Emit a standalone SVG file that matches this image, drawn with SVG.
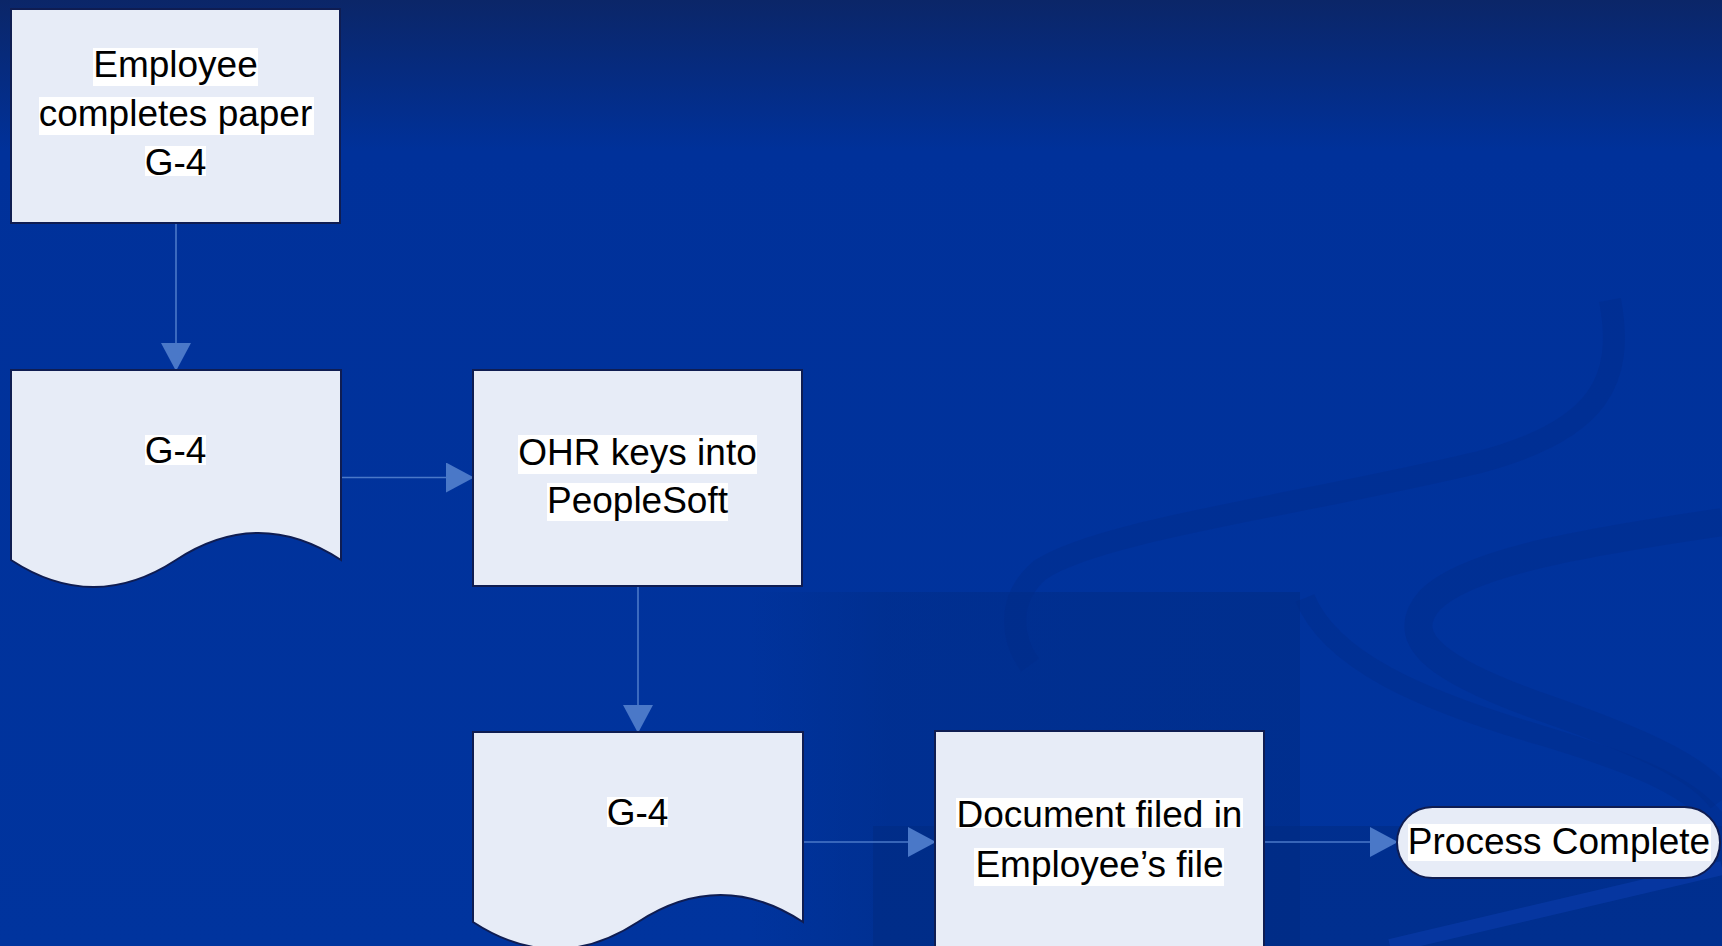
<svg xmlns="http://www.w3.org/2000/svg" width="1722" height="946" viewBox="0 0 1722 946">
<defs>
<linearGradient id="bg" x1="0" y1="0" x2="0" y2="1">
<stop offset="0" stop-color="#0b2668"/>
<stop offset="0.16" stop-color="#00319a"/>
<stop offset="1" stop-color="#00349e"/>
</linearGradient>
<linearGradient id="fadeR" x1="0" y1="0" x2="1" y2="0">
<stop offset="0" stop-color="#002a80" stop-opacity="0"/>
<stop offset="0.25" stop-color="#002a80" stop-opacity="0.4"/>
<stop offset="1" stop-color="#002a80" stop-opacity="0.5"/>
</linearGradient>
<marker id="ah" markerUnits="userSpaceOnUse" markerWidth="28" markerHeight="30" refX="27" refY="15" orient="auto">
<path d="M0,0 L28,15 L0,30 Z" fill="#4a78c8"/>
</marker>
<style>
.node{fill:#e7ecf7;stroke:#0f1d52;stroke-width:2}
.hl{fill:#ffffff}
.t{font-family:"Liberation Sans",Arial,sans-serif;font-size:37px;fill:#000000;text-anchor:middle}
.edge{fill:none;stroke:#4a78c8;stroke-width:1.6;marker-end:url(#ah)}
.band{fill:none;stroke:#002b86;stroke-opacity:0.35}
</style>
</defs>
<g id="background">
<rect x="0" y="0" width="1722" height="946" fill="url(#bg)"/>
<rect x="750" y="592" width="550" height="354" fill="url(#fadeR)"/>
<rect x="873" y="826" width="849" height="120" fill="#002a80" fill-opacity="0.5"/>
<path class="band" stroke-width="22" d="M1610,300 C1625,380 1600,430 1480,462 C1300,505 1100,530 1040,570 C1005,600 1012,640 1030,665"/>
<path class="band" stroke-width="20" d="M1305,598 C1330,660 1420,700 1540,735 C1640,765 1700,790 1722,830"/>
<path class="band" stroke-width="28" d="M1722,522 C1600,540 1470,560 1430,600 C1395,640 1440,672 1550,710 C1650,745 1700,770 1722,800"/>
<path fill="none" stroke="#0a3cac" stroke-width="14" stroke-opacity="0.6" d="M1390,946 L1722,868"/>
</g>
<g id="connectors">
<line class="edge" x1="176" y1="224" x2="176" y2="370"/>
<line class="edge" x1="341" y1="477.5" x2="473" y2="477.5"/>
<line class="edge" x1="638" y1="587" x2="638" y2="732"/>
<line class="edge" x1="803" y1="842" x2="935" y2="842"/>
<line class="edge" x1="1264" y1="842" x2="1397" y2="842"/>
</g>
<g id="n1">
<rect class="node" x="11" y="9" width="329" height="214"/>
<rect class="hl" x="93" y="48" width="165" height="38"/>
<text class="t" x="175.5" y="77">Employee</text>
<rect class="hl" x="39" y="97" width="275" height="38"/>
<text class="t" x="175.5" y="126">completes paper</text>
<rect class="hl" x="145" y="146" width="61" height="30"/>
<text class="t" x="175.5" y="175">G-4</text>
</g>
<g id="n2">
<path class="node" d="M11,370 H341 V560 C286,524 231,524 176,560 C121,596 66,596 11,560 Z"/>
<rect class="hl" x="145" y="435" width="61" height="30"/>
<text class="t" x="175.5" y="463">G-4</text>
</g>
<g id="n3">
<rect class="node" x="473" y="370" width="329" height="216"/>
<rect class="hl" x="518" y="435" width="239" height="39"/>
<text class="t" x="637.5" y="465">OHR keys into</text>
<rect class="hl" x="547" y="483" width="181" height="38"/>
<text class="t" x="637.5" y="513">PeopleSoft</text>
</g>
<g id="n4">
<path class="node" d="M473,732 H803 V922 C748,886 693,886 638,922 C583,958 528,958 473,922 Z"/>
<rect class="hl" x="607" y="797" width="61" height="30"/>
<text class="t" x="637.5" y="825">G-4</text>
</g>
<g id="n5">
<rect class="node" x="935" y="731" width="329" height="230"/>
<rect class="hl" x="956" y="798" width="287" height="30"/>
<text class="t" x="1099.5" y="827">Document filed in</text>
<rect class="hl" x="974" y="848" width="250" height="38"/>
<text class="t" x="1099.5" y="877">Employee’s file</text>
</g>
<g id="n6">
<rect class="node" x="1397" y="807" width="323" height="71" rx="35.5" ry="35.5"/>
<rect class="hl" x="1408" y="824" width="303" height="37"/>
<text class="t" x="1559" y="854">Process Complete</text>
</g>
</svg>
